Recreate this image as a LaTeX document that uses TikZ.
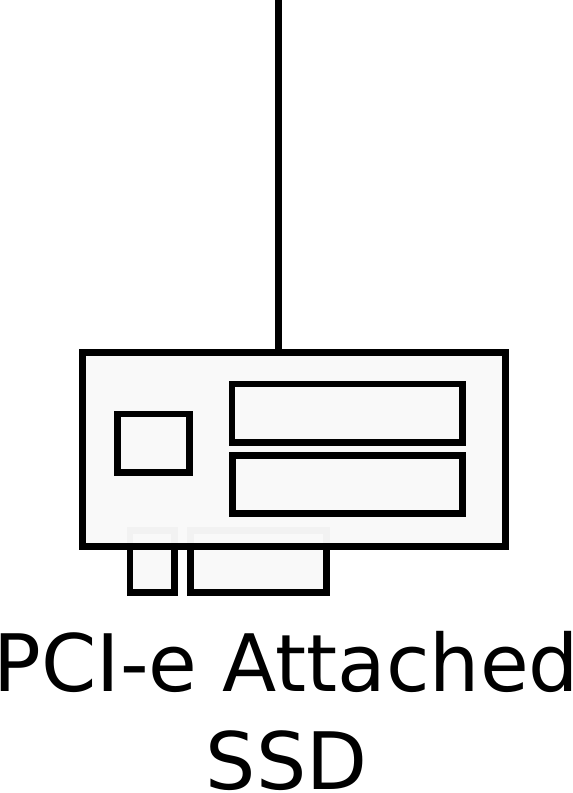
\documentclass[tikz,border=0pt]{standalone}
\usepackage{fontspec}
\setmainfont{DejaVu Sans}
\usetikzlibrary{positioning}
\definecolor{cardfill}{HTML}{F9F9F9}
\tikzstyle{part} = [rectangle, draw=black, line width=0.135cm, fill=cardfill, inner sep=0pt]
\tikzstyle{boardpart} = [part, fill opacity=0.972]
\tikzstyle{arrow} = [line width=0.135cm, line cap=butt]
\tikzstyle{caption} = [align=center, inner sep=0pt, font=\fontsize{45.1}{55.8}\selectfont]

\begin{document}
\begin{tikzpicture}[x=0.02cm,y=-0.02cm]
		\path[use as bounding box] (0,0) rectangle (573,793);
		%card edge tabs sit under the board
		\node (tab1) [part, minimum width=0.896cm, minimum height=1.24cm] at (152.4,561.5) {};
		\node (tab2) [part, minimum width=2.72cm, minimum height=1.24cm] at (258.5,561.5) {};
		%board and chips
		\node (card) [boardpart, minimum width=8.468cm, minimum height=3.88cm] at (294,449.7) {};
		\node (chip) [part, minimum width=1.44cm, minimum height=1.166cm] at (153.2,443.2) {};
		\node (slot1) [part, minimum width=4.604cm, minimum height=1.166cm] at (347.1,413.2) {};
		\node (slot2) [part, minimum width=4.59cm, minimum height=1.166cm] at (347.45,484.4) {};
		\node (label) [caption] at (286.5,711) {PCI-e Attached\\SSD};
		%uplink leaves the top of the picture
		\coordinate (up) at (278.8,0);
		\draw [arrow](up) -- (up |- card.north);
	\end{tikzpicture}
\end{document}
